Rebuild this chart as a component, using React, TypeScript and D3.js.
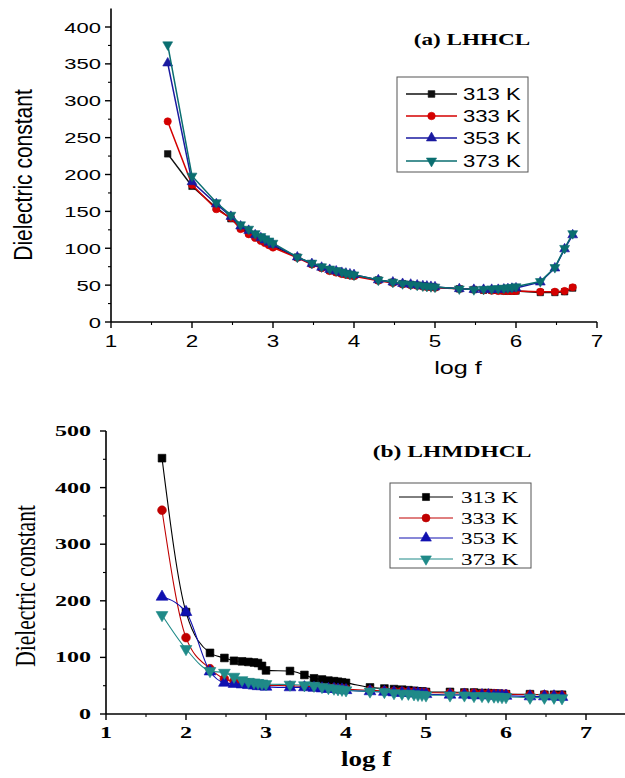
import React from "react";
import * as d3 from "d3";

const logF = [1.7, 2.0, 2.3, 2.48, 2.6, 2.7, 2.78, 2.85, 2.9, 2.95, 3.0, 3.3, 3.48, 3.6, 3.7, 3.78, 3.85, 3.9, 3.95, 4.0, 4.3, 4.48, 4.6, 4.7, 4.78, 4.85, 4.9, 4.95, 5.0, 5.3, 5.48, 5.6, 5.7, 5.78, 5.85, 5.9, 5.95, 6.0, 6.3, 6.48, 6.6, 6.7];
const seriesNames = ["313 K", "333 K", "353 K", "373 K"];

const a313 = [228, 184, 155, 140, 128, 121, 116, 112, 109, 106, 103, 88, 79, 74, 70, 68, 66, 65, 64, 63, 57, 54, 52, 51, 50, 49, 48, 48, 47, 45, 44, 43, 43, 43, 42, 42, 42, 42, 40, 40, 41, 46];
const a333 = [272, 186, 153, 141, 126, 119, 114, 110, 107, 104, 101, 87, 78, 73, 69, 67, 65, 64, 63, 62, 56, 53, 51, 50, 49, 48, 47.5, 47, 46.5, 45, 44, 43, 42.5, 42, 42, 42, 42, 42, 41, 41, 42, 47];
const a353 = [351, 190, 160, 143, 130, 124, 118, 114, 111, 108, 105, 88, 79, 74, 71, 69, 67, 66, 65, 64, 57, 54, 52, 51, 50, 49, 48.5, 48, 47.5, 45, 44, 44, 44, 44, 44.5, 45, 45.5, 46, 54, 73, 99, 118];
const a373 = [376, 198, 162, 145, 132, 126, 120, 116, 113, 110, 107, 88, 80, 75, 72, 70, 68, 66, 65, 64, 57, 54, 52, 51, 50, 49, 48.5, 48, 47.5, 45, 44, 44.5, 45, 45.5, 46, 46.5, 47, 48, 55, 74, 100, 120];

const b313 = [452, 180, 108, 99, 94, 93, 92, 91, 90, 85, 77, 76, 69, 63, 61, 59, 58, 57, 56, 55, 47, 45, 44, 43, 42, 41, 40, 40, 39, 39, 38, 38, 37, 37, 36, 36, 35, 35, 35, 34, 34, 34];
const b333 = [360, 135, 80, 62, 58, 56, 55, 54, 53, 52, 51, 50, 49, 48, 47, 46, 46, 45, 45, 44, 42, 41, 40, 40, 39, 39, 38, 38, 38, 37, 37, 37, 36, 36, 36, 35, 35, 35, 34, 34, 33, 33];
const b353 = [207, 180, 75, 55, 53, 52, 51, 50, 49, 49, 48, 47, 47, 46, 45, 44, 44, 43, 43, 42, 40, 39, 38, 37, 37, 36, 36, 35, 35, 34, 34, 33, 33, 33, 32, 32, 32, 32, 31, 31, 31, 30];
const b373 = [175, 115, 76, 73, 66, 60, 57, 56, 55, 54, 53, 52, 51, 50, 48, 46, 45, 44, 43, 42, 40, 39, 37, 36, 36, 35, 34, 34, 33, 33, 33, 32, 32, 31, 31, 31, 30, 30, 29, 29, 29, 28];

const aYTicks = [0, 50, 100, 150, 200, 250, 300, 350, 400];
const bYTicks = [0, 100, 200, 300, 400, 500];
const xTicks = [1, 2, 3, 4, 5, 6, 7];

const colorsA = ["#111111", "#d40000", "#1a1aa0", "#0a6e70"];
const colorsB = ["#000000", "#c00000", "#1010b0", "#1f8a88"];
const symbols = [d3.symbolSquare, d3.symbolCircle, d3.symbolTriangle, d3.symbolTriangle];
const rotations = [0, 0, 0, 180];

const SANS = "'Liberation Sans', Arial, sans-serif";
const SERIF = "'Liberation Serif', 'Times New Roman', serif";

function T(props: any) {
  const { x, y, sx = 1.35, anchor = "start", size, family, weight = "normal", rotate = false, children } = props;
  return (
    <text
      transform={`translate(${x},${y}) scale(${sx},1)${rotate ? " rotate(-90)" : ""}`}
      textAnchor={anchor}
      fontSize={size}
      fontFamily={family}
      fontWeight={weight}
      fill="#000"
    >
      {children}
    </text>
  );
}

function Marker({ i, x, y, size, colors }: any) {
  const path = d3.symbol().type(symbols[i]).size(size)() as string;
  return (
    <path
      d={path}
      transform={`translate(${x},${y}) rotate(${rotations[i]})`}
      fill={colors[i]}
      stroke={colors[i]}
      strokeWidth={0.6}
    />
  );
}

function Panel(props: any) {
  const { x0, x1, xDomain, y0, y1, yDomain, yTicks, yMinor, xMinor, data, colors, lineWidth, markerSize, curve } = props;
  const xs = d3.scaleLinear().domain(xDomain).range([x0, x1]);
  const ys = d3.scaleLinear().domain(yDomain).range([y0, y1]);
  const line = d3
    .line<number>()
    .x((_, i) => xs(logF[i]))
    .y((v) => ys(v))
    .curve(curve);
  return (
    <g>
      {data.map((vals: number[], si: number) => (
        <g key={si}>
          <path d={line(vals) as string} fill="none" stroke={colors[si]} strokeWidth={lineWidth} />
          {vals.map((v, i) => (
            <Marker key={i} i={si} x={xs(logF[i])} y={ys(v)} size={markerSize} colors={colors} />
          ))}
        </g>
      ))}
      <line x1={x0} x2={x1} y1={y0} y2={y0} stroke="#000" strokeWidth={1.6} />
      <line x1={x0} x2={x0} y1={y0} y2={y1} stroke="#000" strokeWidth={1.6} />
      {yTicks.map((t: number) => (
        <line key={"y" + t} x1={x0 - 6} x2={x0} y1={ys(t)} y2={ys(t)} stroke="#000" strokeWidth={1.4} />
      ))}
      {yMinor.map((t: number) => (
        <line key={"ym" + t} x1={x0 - 3} x2={x0} y1={ys(t)} y2={ys(t)} stroke="#000" strokeWidth={1.1} />
      ))}
      {xTicks.map((t) => (
        <line key={"x" + t} x1={xs(t)} x2={xs(t)} y1={y0} y2={y0 + 6} stroke="#000" strokeWidth={1.4} />
      ))}
      {xMinor.map((t: number) => (
        <line key={"xm" + t} x1={xs(t)} x2={xs(t)} y1={y0} y2={y0 + 3} stroke="#000" strokeWidth={1.1} />
      ))}
    </g>
  );
}

function Legend(props: any) {
  const { bx, by, bw, bh, rows, lx0, lx1, tx, colors, family, size, sx, markerSize, lineWidth } = props;
  return (
    <g>
      <rect x={bx} y={by} width={bw} height={bh} fill="#fff" stroke="#555" strokeWidth={1} />
      {seriesNames.map((name, i) => (
        <g key={name}>
          <line x1={lx0} x2={lx1} y1={rows[i]} y2={rows[i]} stroke={colors[i]} strokeWidth={lineWidth} />
          <Marker i={i} x={(lx0 + lx1) / 2} y={rows[i]} size={markerSize} colors={colors} />
          <T x={tx} y={rows[i] + 6} size={size} family={family} sx={sx}>{name}</T>
        </g>
      ))}
    </g>
  );
}

export default function App() {
  const aXs = d3.scaleLinear().domain([1, 7]).range([111, 597]);
  const aYs = d3.scaleLinear().domain([0, 400]).range([322, 27]);
  const bXs = d3.scaleLinear().domain([1, 7.5]).range([106, 626]);
  const bYs = d3.scaleLinear().domain([0, 500]).range([714, 431]);
  const aYMinor = d3.range(25, 425, 50);
  const bYMinor = d3.range(50, 500, 100);
  return (
    <svg width={625} height={778} style={{ position: "absolute", left: 0, top: 0, background: "#fff" }}>
      <rect width={625} height={778} fill="#fff" />
      {/* Panel (a) */}
      <Panel
        x0={111} x1={597} xDomain={[1, 7]} y0={322} y1={aYs(425)} yDomain={[0, 425]}
        yTicks={aYTicks} yMinor={aYMinor} xMinor={[1.5, 2.5, 3.5, 4.5, 5.5, 6.5]}
        data={[a313, a333, a353, a373]} colors={colorsA} lineWidth={1.5} markerSize={42}
        curve={d3.curveLinear}
      />
      {aYTicks.map((t) => (
        <T key={t} x={101} y={aYs(t) + 5.5} anchor="end" size={15.5} family={SANS} weight={500} sx={1.42}>{t}</T>
      ))}
      {xTicks.map((t) => (
        <T key={t} x={aXs(t)} y={347} anchor="middle" size={16} family={SANS} sx={1.4}>{t}</T>
      ))}
      <T x={32} y={175} anchor="middle" size={21} family={SANS} sx={1.25} rotate>Dielectric constant</T>
      <T x={458} y={374} anchor="middle" size={18} family={SANS} sx={1.4}>log f</T>
      <T x={472} y={45} anchor="middle" size={16} family={SERIF} weight="bold" sx={1.45}>(a) LHHCL</T>
      <Legend bx={397} by={77} bw={131} bh={95} rows={[94, 116, 138, 161]} lx0={406} lx1={457} tx={463}
        colors={colorsA} family={SANS} size={17} sx={1.3} markerSize={45} lineWidth={1.4} />

      {/* Panel (b) */}
      <Panel
        x0={106} x1={626} xDomain={[1, 7.5]} y0={714} y1={431} yDomain={[0, 500]}
        yTicks={bYTicks} yMinor={bYMinor} xMinor={[1.5, 2.5, 3.5, 4.5, 5.5, 6.5, 7.5]}
        data={[b313, b333, b353, b373]} colors={colorsB} lineWidth={1.1} markerSize={60}
        curve={d3.curveMonotoneX}
      />
      {bYTicks.map((t) => (
        <T key={t} x={91} y={bYs(t) + 5} anchor="end" size={15.5} family={SERIF} weight="bold" sx={1.55}>{t}</T>
      ))}
      {xTicks.map((t) => (
        <T key={t} x={bXs(t)} y={738} anchor="middle" size={16} family={SERIF} weight="bold" sx={1.5}>{t}</T>
      ))}
      <T x={35} y={586} anchor="middle" size={21.5} family={SERIF} sx={1.35} rotate>Dielectric constant</T>
      <T x={366} y={766} anchor="middle" size={20} family={SERIF} weight="bold" sx={1.35}>log f</T>
      <T x={452} y={457} anchor="middle" size={16} family={SERIF} weight="bold" sx={1.47}>(b) LHMDHCL</T>
      <Legend bx={390} by={483} bw={141} bh={85} rows={[497, 518, 538, 559]} lx0={399} lx1={453} tx={461}
        colors={colorsB} family={SERIF} size={17} sx={1.36} markerSize={50} lineWidth={1} />
    </svg>
  );
}
